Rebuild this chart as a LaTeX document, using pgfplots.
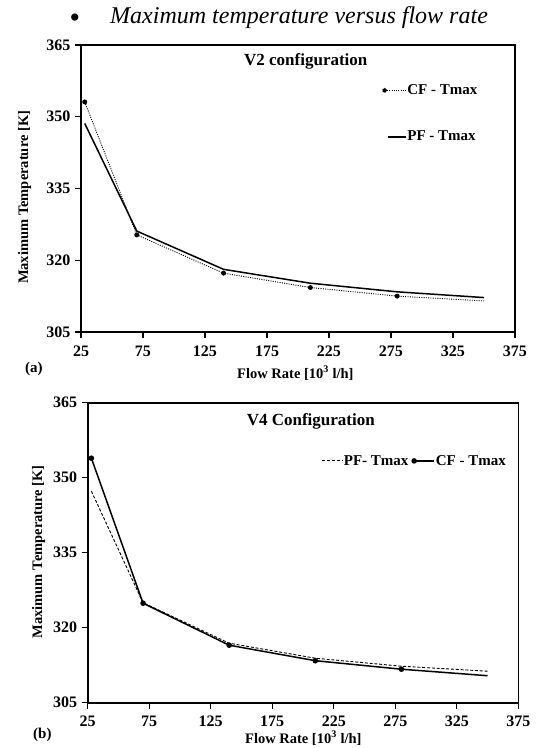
\documentclass[border=0pt]{standalone}
\usepackage{fontspec}
\setmainfont{Liberation Serif}
\usepackage{pgfplots}
\pgfplotsset{compat=1.18}

\pgfplotsset{
  panel/.style={
    scale only axis, anchor=south west,
    xmin=25, xmax=375, ymin=305, ymax=365,
    xtick={25,75,...,375}, ytick={305,320,...,365},
    xtick pos=bottom, ytick pos=left, tick align=outside,
    major tick length=6pt,
    every tick/.style={black, line width=1.2pt},
    axis line style={line width=1.6pt},
    /pgf/number format/assume math mode=true,
    ticklabel style={font=\fontsize{16}{16}\selectfont\bfseries},
    xticklabel style={yshift=-4pt},
    yticklabel style={xshift=-1pt},
    label style={font=\fontsize{14.5}{15}\selectfont\bfseries},
    title style={anchor=base, font=\fontsize{17}{17}\selectfont\bfseries},
    xlabel={Flow Rate [10\textsuperscript{3} l/h]},
    ylabel={Maximum Temperature [K]},
    legend style={draw=none, fill=none, inner sep=0pt,
      font=\fontsize{15}{15}\selectfont\bfseries,
      nodes={inner sep=1pt}},
    legend cell align=left,
  },
  cfmark/.style={mark=*, mark size=2pt, mark options={solid, fill=black},
    mark indices={1,2,3,4,5}},
}

\begin{document}
\begin{tikzpicture}
\useasboundingbox (0pt,0pt) rectangle (539pt,-748pt);

\node[anchor=base, inner sep=0pt, font=\fontsize{30}{30}\selectfont] at (75pt,-27pt) {•};
\node[anchor=base west, inner sep=0pt, font=\fontsize{24}{24}\selectfont\itshape]
  at (110pt,-23.5pt) {Maximum temperature versus flow rate};

% (a) V2
\begin{axis}[panel,
  at={(81pt,-332pt)}, width=434pt, height=287pt,
  title={V2 configuration},
  title style={at={(axis description cs:0.518,0.907)}},
  xlabel style={at={(axis description cs:0.494,-0.161)}, anchor=base},
  ylabel style={at={(axis description cs:-0.130,0.469)}, anchor=center},
  legend style={at={(axis description cs:0.6935,0.866)}, anchor=north west,
    row sep=33pt},
]
\addplot+[black, line width=0.9pt, dash pattern=on 1pt off 1.3pt, cfmark,
  legend image code/.code={
    \draw[black, line width=0.9pt, dash pattern=on 1pt off 1.3pt] (0pt,0pt) -- (21pt,0pt);
    \fill[black] (0pt,0pt) circle (2pt);}]
  coordinates {
  (28,353.1) (70,325.3) (140,317.3) (210,314.3) (280,312.5) (350,311.5)
};
\addlegendentry{CF - Tmax}
\addplot+[black, line width=1.5pt, mark=none,
  legend image code/.code={
    \draw[black, line width=1.5pt] (3pt,0pt) -- (21pt,0pt);}]
  coordinates {
  (28,348.6) (70,326.1) (140,318.1) (210,315.2) (280,313.4) (350,312.2)
};
\addlegendentry{PF - Tmax}
\end{axis}

% (b) V4
\begin{axis}[panel,
  at={(87.7pt,-702.7pt)}, width=430.6pt, height=300pt,
  title={V4 Configuration},
  title style={at={(axis description cs:0.518,0.903)}},
  xlabel style={at={(axis description cs:0.5007,-0.135)}, anchor=base},
  ylabel style={at={(axis description cs:-0.114,0.503)}, anchor=center},
  legend columns=2,
  legend style={at={(axis description cs:0.974,0.829)}, anchor=north east,
    /tikz/every even column/.append style={column sep=2pt}},
]
\addplot+[black, line width=0.9pt, dash pattern=on 3pt off 1.8pt, mark=none,
  legend image code/.code={
    \draw[black, line width=0.9pt, dash pattern=on 3pt off 1.8pt] (0pt,0pt) -- (20pt,0pt);}]
  coordinates {
  (28,347.3) (70,325.0) (140,316.9) (210,313.9) (280,312.3) (350,311.3)
};
\addlegendentry{PF- Tmax}
\addplot+[black, line width=1.5pt, solid, cfmark,
  legend image code/.code={
    \draw[black, line width=1.5pt] (0pt,0pt) -- (20pt,0pt);
    \fill[black] (0pt,0pt) circle (2pt);}]
  coordinates {
  (28,353.9) (70,324.9) (140,316.5) (210,313.4) (280,311.7) (350,310.4)
};
\addlegendentry{CF - Tmax}
\end{axis}

\node[anchor=base west, inner sep=0pt, font=\fontsize{15}{15}\selectfont\bfseries]
  at (25pt,-372pt) {(a)};
\node[anchor=base west, inner sep=0pt, font=\fontsize{15}{15}\selectfont\bfseries]
  at (33pt,-738pt) {(b)};
\end{tikzpicture}
\end{document}
